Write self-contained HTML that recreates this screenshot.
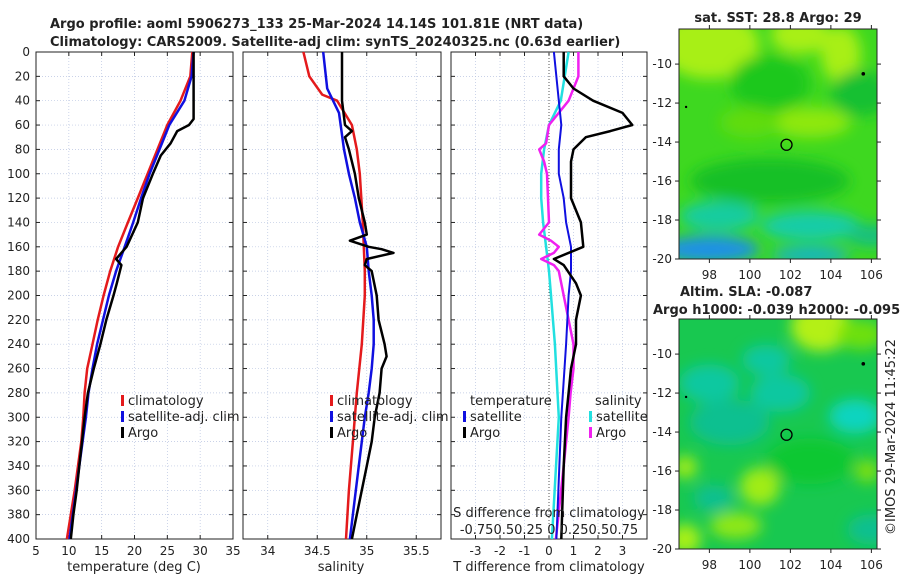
<!DOCTYPE html>
<html><head><meta charset="utf-8"><style>
body{margin:0;background:#fff;width:900px;height:580px;overflow:hidden}
svg{font-family:"DejaVu Sans","Liberation Sans",sans-serif}
</style></head><body>
<svg id="c" width="900" height="580"></svg>
<script>
// ---- data ----
const tDepth=[0,20,40,60,80,100,120,140,160,180,200,220,240,260,280,300,320,340,360,380,400];
const tClim=[28.8,28.5,27,25,23.5,22,20.5,19,17.5,16.3,15.3,14.4,13.6,12.8,12.4,12.2,11.9,11.4,10.9,10.3,9.7];
const tSat=[29,28.7,27.6,25.3,23.8,22.3,21,19.8,18.5,17.2,16.1,15.2,14.3,13.6,13,12.6,12.1,11.6,11.1,10.6,10.1];
const argoDepth=[0,50,55,60,65,75,85,100,120,140,160,170,175,190,200,220,240,260,280,300,320,340,360,380,400];
const tArgo=[29,29,29,28.3,26.5,25.5,24,22.8,21.3,20.5,18.8,17.2,18,17.3,16.8,15.7,14.8,13.8,12.9,12.4,12,11.6,11.2,10.7,10.3];
const sDepth=[0,20,35,40,60,80,100,140,180,200,240,280,320,360,400];
const sClim=[34.36,34.42,34.55,34.7,34.85,34.9,34.93,34.96,34.98,34.98,34.95,34.9,34.86,34.82,34.79];
const sSatDepth=[0,30,50,80,100,120,140,160,180,200,220,240,260,280,300,340,400];
const sSat=[34.56,34.6,34.72,34.77,34.82,34.88,34.93,35,35.02,35.05,35.07,35.07,35.05,35.02,34.98,34.92,34.83];
const sArgoDepth=[0,40,60,65,70,80,100,120,140,150,155,160,162,165,170,175,180,200,220,240,250,260,280,300,320,340,360,380,400];
const sArgo=[34.75,34.75,34.78,34.85,34.78,34.82,34.88,34.92,34.98,35,34.83,35.02,35.15,35.27,35,34.98,35.05,35.1,35.12,35.18,35.2,35.15,35.13,35.08,35.05,35,34.95,34.9,34.85];
const dDepth=[0,20,30,40,50,60,65,70,80,90,100,120,140,160,170,175,190,200,220,240,260,280,300,340,400];
const dTArgo=[0.6,0.6,1,1.8,3,3.4,2.5,1.5,1,0.9,0.9,0.9,1.3,1.4,0.2,0.6,1.1,1.3,1.1,1.1,0.9,0.8,0.7,0.6,0.5];
const dSatDepth=[0,40,60,80,100,120,140,160,180,200,240,300,400];
const dTSat=[0.2,0.4,0.5,0.4,0.4,0.6,0.7,0.9,0.9,0.8,0.7,0.5,0.3];
const dSSat=[0.2,0.12,0.0,-0.05,-0.08,-0.08,-0.06,-0.03,0.0,0.02,0.06,0.1,0.03];
const dSArgoDepth=[0,20,40,60,75,80,90,100,140,150,155,160,165,170,175,180,200,220,240,260,280,300,340,400];
const dSArgo=[0.3,0.3,0.2,0.0,-0.03,-0.1,-0.05,-0.02,0.0,-0.1,0.02,0.1,0.05,-0.08,0.05,0.1,0.15,0.2,0.25,0.25,0.22,0.2,0.15,0.07];
const yTicks=[0,20,40,60,80,100,120,140,160,180,200,220,240,260,280,300,320,340,360,380,400];

const NS="http://www.w3.org/2000/svg",svg=document.getElementById('c');
function el(t,a,p){const e=document.createElementNS(NS,t);for(const k in a)e.setAttribute(k,a[k]);(p||svg).appendChild(e);return e;}
function txt(x,y,s,a,size,w,anchor){const e=el('text',Object.assign({x:x,y:y,'font-size':size||12,fill:'#222','text-anchor':anchor||'middle','font-weight':w||'normal'},a||{}));e.textContent=s;return e;}
const Y0=52,Y1=539,yS=d=>Y0+(Y1-Y0)*d/400;

function panel(x0,x1,xmin,xmax,xt,xlabels,name,ylab){
  const xS=v=>x0+(x1-x0)*(v-xmin)/(xmax-xmin);
  const g=el('g',{});
  
  
  yTicks.forEach(d=>{el('line',{x1:x0,x2:x1,y1:yS(d),y2:yS(d),stroke:'#b8c4e0','stroke-width':0.7,'stroke-dasharray':'1,2'},g);
    el('line',{x1:x0,x2:x0+4,y1:yS(d),y2:yS(d),stroke:'#222'},g);el('line',{x1:x1-4,x2:x1,y1:yS(d),y2:yS(d),stroke:'#222'},g);
    if(ylab){const t=txt(x0-6,yS(d)+4,String(d),{},12,null,'end');}});
  xt.forEach((v,i)=>{const X=xS(v);el('line',{x1:X,x2:X,y1:Y0,y2:Y1,stroke:'#b8c4e0','stroke-width':0.7,'stroke-dasharray':'1,2'},g);
    el('line',{x1:X,x2:X,y1:Y1-4,y2:Y1,stroke:'#222'},g);el('line',{x1:X,x2:X,y1:Y0,y2:Y0+4,stroke:'#222'},g);
    if(xlabels[i]!==''){const t=txt(X,Y1+16,xlabels[i],{},12);}});
  el('rect',{x:x0,y:Y0,width:x1-x0,height:Y1-Y0,fill:'none',stroke:'#222','stroke-width':1},g);
  return xS;
}
function line(xS,vals,depths,color,w,name,mult){
  const pts=vals.map((v,i)=>xS(v*(mult||1)).toFixed(1)+','+yS(depths[i]).toFixed(1)).join(' ');
  const p=el('polyline',{points:pts,fill:'none',stroke:color,'stroke-width':w,'stroke-linejoin':'round'});
  
  
}
function legItem(x,y,color,label,name){
  el('rect',{x:x,y:y-10,width:3,height:11,fill:color});
  const t=txt(x+7,y,label,{},13,null,'start');
  
  
}

// titles
let t=txt(50,28,'Argo profile: aoml 5906273_133 25-Mar-2024 14.14S 101.81E (NRT data)',{},13,'bold','start');

t=txt(50,46,'Climatology: CARS2009. Satellite-adj clim: synTS_20240325.nc (0.63d earlier)',{},13,'bold','start');


// panel 1
const x1S=panel(36,233,5,35,[5,10,15,20,25,30,35],['5','10','15','20','25','30','35'],'temperature-panel',true);
line(x1S,tClim,tDepth,'#e41a1c',2.5,'temperature-climatology-line');
line(x1S,tSat,tDepth,'#1010e0',2.5,'temperature-satellite-line');
line(x1S,tArgo,argoDepth,'#000',2.5,'temperature-argo-line');
t=txt(134,571,'temperature (deg C)',{},13);
legItem(121,405,'#e41a1c','climatology','legend-climatology');
legItem(121,421,'#1010e0','satellite-adj. clim','legend-satellite');
legItem(121,437,'#000','Argo','legend-argo');

// panel 2
const x2S=panel(243,441,33.75,35.75,[34,34.5,35,35.5],['34','34.5','35','35.5'],'salinity-panel',false);
line(x2S,sClim,sDepth,'#e41a1c',2.5,'salinity-climatology-line');
line(x2S,sSat,sSatDepth,'#1010e0',2.5,'salinity-satellite-line');
line(x2S,sArgo,sArgoDepth,'#000',2.5,'salinity-argo-line');
t=txt(341,571,'salinity',{},13);
legItem(330,405,'#e41a1c','climatology','legend-climatology-2');
legItem(330,421,'#1010e0','satellite-adj. clim','legend-satellite-2');
legItem(330,437,'#000','Argo','legend-argo-2');

// panel 3
const x3S=panel(451,647,-4,4,[-3,-2,-1,0,1,2,3],['-3','-2','-1','0','1','2','3'],'difference-panel',false);
el('line',{x1:x3S(0),x2:x3S(0),y1:Y0,y2:Y1,stroke:'#555','stroke-width':1,'stroke-dasharray':'1,2'});
line(x3S,dSSat,dSatDepth,'#22e0e0',2.5,'salinity-diff-satellite-line',4);
line(x3S,dSArgo,dSArgoDepth,'#f020f0',2.5,'salinity-diff-argo-line',4);
line(x3S,dTSat,dSatDepth,'#1010e0',2,'temperature-diff-satellite-line');
line(x3S,dTArgo,dDepth,'#000',2.5,'temperature-diff-argo-line');
t=txt(549,571,'T difference from climatology',{},13);
t=txt(549,517,'S difference from climatology',{},13);
t=txt(549,534,'-0.750.50.25 0 0.250.50.75',{},13);
t=txt(470,405,'temperature',{},13,null,'start');
t=txt(595,405,'salinity',{},13,null,'start');
legItem(463,421,'#1010e0','satellite','legend-t-satellite');
legItem(463,437,'#000','Argo','legend-t-argo');
legItem(589,421,'#22e0e0','satellite','legend-s-satellite');
legItem(589,437,'#f020f0','Argo','legend-s-argo');

// maps
const defs=el('defs',{});
const f=el('filter',{id:'bl',x:'-50%',y:'-50%',width:'200%',height:'200%'},defs);el('feGaussianBlur',{stdDeviation:7},f);
const cp1=el('clipPath',{id:'m1'},defs);el('rect',{x:679,y:29,width:198,height:230},cp1);
const cp2=el('clipPath',{id:'m2'},defs);el('rect',{x:679,y:319,width:198,height:230},cp2);
function map(y0,y1,lat0,clip,blobs,bg,name){
  const g=el('g',{});
  
  
  const lonS=v=>679+(v-96.5)*20.25, latS=v=>y0+(v-lat0)*(y1-y0)/(-20-lat0);
  const c=el('g',{'clip-path':'url(#'+clip+')'},g);
  el('rect',{x:679,y:y0,width:198,height:y1-y0,fill:bg},c);
  const b=el('g',{filter:'url(#bl)'},c);
  blobs.forEach(q=>el('ellipse',{cx:lonS(q[0]),cy:latS(q[1]),rx:q[2]*20,ry:q[3]*19,fill:q[4]},b));
  el('rect',{x:679,y:y0,width:198,height:y1-y0,fill:'none',stroke:'#222'},g);
  [98,100,102,104,106].forEach(v=>{el('line',{x1:lonS(v),x2:lonS(v),y1:y1,y2:y1+4,stroke:'#222'},g);el('line',{x1:lonS(v),x2:lonS(v),y1:y0,y2:y0-4,stroke:'#222'},g);txt(lonS(v),y1+20,String(v),{},12);});
  [-10,-12,-14,-16,-18,-20].forEach(v=>{el('line',{x1:679,x2:675,y1:latS(v),y2:latS(v),stroke:'#222'},g);el('line',{x1:877,x2:881,y1:latS(v),y2:latS(v),stroke:'#222'},g);txt(672,latS(v)+4,String(v),{},12,null,'end');});
  const m=el('circle',{cx:lonS(101.81),cy:latS(-14.14),r:5.5,fill:'none',stroke:'#000','stroke-width':1.3},g);
  
  el('circle',{cx:lonS(105.6),cy:latS(-10.5),r:1.8,fill:'#000'},g);
  el('circle',{cx:lonS(96.85),cy:latS(-12.2),r:1.2,fill:'#000'},g);
}
map(29,259,-8.2,'m1',[
 [98,-9,2.5,1.8,'#a8ef14'],[102.5,-8.5,1.5,1,'#a8ef14'],[104.5,-9.5,1,1.5,'#a8ef14'],[101,-11,2,1.5,'#1cc81c'],
 [105.5,-11.5,1.5,1.2,'#14c030'],[103,-13,2,0.8,'#8ee810'],[100,-13,1.5,0.8,'#60dc10'],[101,-16,4,1.2,'#18c028'],
 [98.5,-17.8,2,0.8,'#18cca0'],[103,-18.3,2.5,0.8,'#14cca8'],[98,-19.5,2.5,0.7,'#1a90e8'],[103,-19.8,2,0.4,'#14b0d8'],[106,-18.8,1.2,0.6,'#14c080']
],'#3ed820','sst-map');
map(319,549,-8.2,'m2',[
 [98,-11.5,1.5,1,'#10c8a0'],[100.8,-10.3,1.2,0.8,'#10c8a0'],[101.5,-12,1.5,1,'#10c8a0'],[99,-13.5,2,1.2,'#10c090'],
 [105.2,-13.2,1.3,0.9,'#10d4c0'],[103.5,-8.6,1.5,1.3,'#b4f014'],[105.5,-9,1.2,0.8,'#6ee010'],[100.5,-16.8,1,1,'#a0ec14'],
 [99.3,-18.8,1.3,0.7,'#90e814'],[96.8,-19.5,0.8,0.8,'#a8f014'],[96.8,-15.8,0.6,0.6,'#a0ec14'],[98.2,-17.4,1,0.7,'#10c090'],
 [103,-15.5,2.2,1.2,'#10c830'],[106,-19,1.2,0.8,'#10c090'],[105.8,-16,0.6,0.6,'#80e010']
],'#18c850','sla-map');
t=txt(778,22,'sat. SST: 28.8 Argo: 29',{},13,'bold');
t=txt(680,296,'Altim. SLA: -0.087',{},13,'bold','start');
t=txt(653,314,'Argo h1000: -0.039 h2000: -0.095',{},13,'bold','start');
t=txt(895,437,'©IMOS 29-Mar-2024 11:45:22',{transform:'rotate(-90 895 437)'},13);
</script>
</body></html>
